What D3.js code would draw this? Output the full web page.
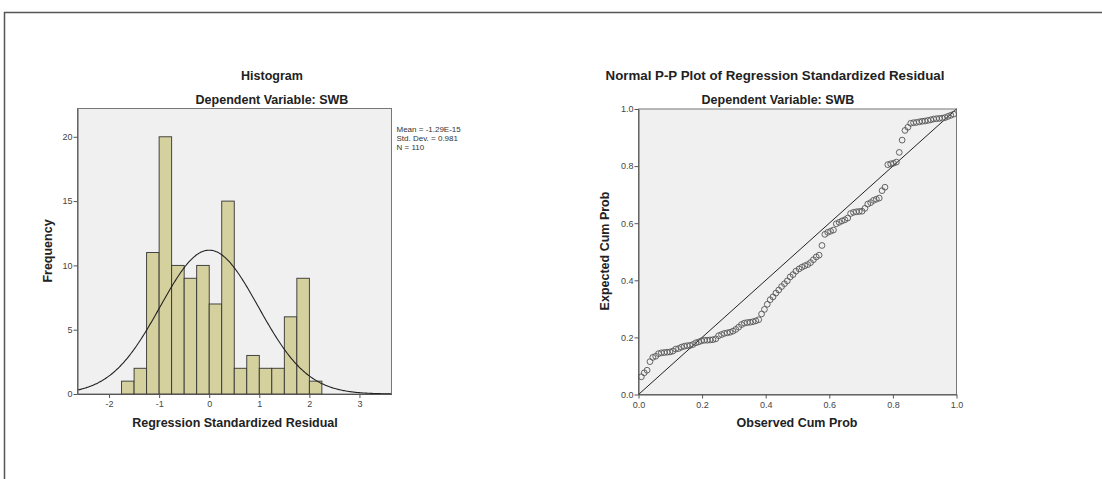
<!DOCTYPE html>
<html>
<head>
<meta charset="utf-8">
<script src="https://cdn.jsdelivr.net/npm/d3@7"></script>
<style>
  body { margin: 0; background: #fff; }
  svg { display: block; font-family: "Liberation Sans", Arial, sans-serif; }
  .tick text { fill: #444; font-size: 9px; }
  .title { font-weight: bold; font-size: 12.5px; fill: #222; text-anchor: middle; }
</style>
</head>
<body>
<div id="chart"></div>
<script>
// histogram data (bin lower edge, width 0.25)
var binStarts = [-1.75, -1.5, -1.25, -1.0, -0.75, -0.5, -0.25, 0, 0.25, 0.5, 0.75, 1.0, 1.25, 1.5, 1.75, 2.0];
var binCounts = [1, 2, 11, 20, 10, 9, 10, 7, 15, 2, 3, 2, 2, 6, 9, 1];
var binWidth = 0.25;
var histXTicks = [-2, -1, 0, 1, 2, 3];
var histYTicks = [0, 5, 10, 15, 20];
var statLines = ["Mean = -1.29E-15", "Std. Dev. = 0.981", "N = 110"];
var resMean = -1.29e-15, resSd = 0.981, resN = 110;

// P-P plot data
var ppObserved = [0.009, 0.018, 0.027, 0.036, 0.045, 0.054, 0.063, 0.072, 0.081, 0.090,
  0.099, 0.108, 0.117, 0.126, 0.135, 0.144, 0.153, 0.162, 0.171, 0.180,
  0.189, 0.198, 0.207, 0.216, 0.225, 0.234, 0.243, 0.252, 0.261, 0.270,
  0.279, 0.288, 0.297, 0.306, 0.315, 0.324, 0.333, 0.342, 0.351, 0.360,
  0.369, 0.378, 0.387, 0.396, 0.405, 0.414, 0.423, 0.432, 0.441, 0.450,
  0.459, 0.468, 0.477, 0.486, 0.495, 0.505, 0.514, 0.523, 0.532, 0.541,
  0.550, 0.559, 0.568, 0.577, 0.586, 0.595, 0.604, 0.613, 0.622, 0.631,
  0.640, 0.649, 0.658, 0.667, 0.676, 0.685, 0.694, 0.703, 0.712, 0.721,
  0.730, 0.739, 0.748, 0.757, 0.766, 0.775, 0.784, 0.793, 0.802, 0.811,
  0.820, 0.829, 0.838, 0.847, 0.856, 0.865, 0.874, 0.883, 0.892, 0.901,
  0.910, 0.919, 0.928, 0.937, 0.946, 0.955, 0.964, 0.973, 0.982, 0.991];
var ppExpected = [0.062, 0.076, 0.085, 0.115, 0.130, 0.134, 0.143, 0.146, 0.147, 0.148,
  0.149, 0.152, 0.159, 0.161, 0.166, 0.169, 0.171, 0.172, 0.175, 0.181,
  0.184, 0.188, 0.190, 0.190, 0.191, 0.192, 0.195, 0.206, 0.210, 0.214,
  0.216, 0.218, 0.222, 0.228, 0.236, 0.245, 0.250, 0.252, 0.253, 0.255,
  0.258, 0.262, 0.282, 0.298, 0.316, 0.332, 0.342, 0.355, 0.366, 0.378,
  0.388, 0.398, 0.412, 0.420, 0.432, 0.440, 0.446, 0.451, 0.455, 0.462,
  0.472, 0.482, 0.488, 0.522, 0.561, 0.568, 0.572, 0.576, 0.598, 0.603,
  0.608, 0.612, 0.618, 0.634, 0.638, 0.640, 0.641, 0.642, 0.652, 0.667,
  0.672, 0.680, 0.684, 0.688, 0.714, 0.726, 0.805, 0.808, 0.810, 0.814,
  0.848, 0.891, 0.925, 0.936, 0.950, 0.952, 0.953, 0.955, 0.957, 0.958,
  0.960, 0.962, 0.965, 0.966, 0.967, 0.968, 0.970, 0.974, 0.978, 0.982];
var ppTicks = [0, 0.2, 0.4, 0.6, 0.8, 1.0];

var w = 1102, h = 479;
var svg = d3.select("#chart").append("svg").attr("width", w).attr("height", h);

// outer frame (top and left edges)
svg.append("path")
  .attr("d", "M4.5," + h + " V12.5 H" + w)
  .attr("fill", "none").attr("stroke", "#555").attr("stroke-width", 1.5);

function panel(left, top, right, bottom) {
  svg.append("rect")
    .attr("x", left).attr("y", top)
    .attr("width", right - left).attr("height", bottom - top)
    .attr("fill", "#f0f0f0").attr("stroke", "#777").attr("stroke-width", 1);
}

function styleAxis(g) {
  g.select(".domain").attr("stroke", "#555");
  g.selectAll(".tick line").attr("stroke", "#555");
}

// ---------- Histogram ----------
var hx = d3.scaleLinear().domain([-2.63, 3.64]).range([77.5, 391.5]);
var hy = d3.scaleLinear().domain([0, 22.2]).range([394, 108.5]);

panel(77.5, 108.5, 391.5, 394);

var clipH = svg.append("clipPath").attr("id", "clipH")
  .append("rect").attr("x", 77.5).attr("y", 108.5).attr("width", 314).attr("height", 285.5);

svg.append("g").selectAll("rect")
  .data(binCounts)
  .enter()
  .append("rect")
  .attr("x", function(d, i) { return hx(binStarts[i]); })
  .attr("y", function(d) { return hy(d); })
  .attr("width", function(d, i) { return hx(binStarts[i] + binWidth) - hx(binStarts[i]); })
  .attr("height", function(d) { return hy(0) - hy(d); })
  .attr("fill", "#d5d19f")
  .attr("stroke", "#333")
  .attr("stroke-width", 0.9);

// normal curve from the stated mean / sd / N
var curveXs = d3.range(-2.63, 3.65, 0.02);
var curve = d3.line()
  .x(function(d) { return hx(d); })
  .y(function(d) {
    var z = (d - resMean) / resSd;
    return hy(resN * binWidth * Math.exp(-0.5 * z * z) / (resSd * Math.sqrt(2 * Math.PI)));
  })
  .curve(d3.curveBasis);
svg.append("path")
  .datum(curveXs)
  .attr("d", curve)
  .attr("fill", "none").attr("stroke", "#222").attr("stroke-width", 1.1)
  .attr("clip-path", "url(#clipH)");

var hxAxis = svg.append("g").attr("transform", "translate(0,394)")
  .call(d3.axisBottom(hx).tickValues(histXTicks).tickFormat(function(d) { return String(d); })
    .tickSize(4).tickPadding(3).tickSizeOuter(0));
styleAxis(hxAxis);
var hyAxis = svg.append("g").attr("transform", "translate(77.5,0)")
  .call(d3.axisLeft(hy).tickValues(histYTicks).tickSize(4).tickPadding(1).tickSizeOuter(0));
styleAxis(hyAxis);

svg.append("text").attr("class", "title").attr("x", 272).attr("y", 80).text("Histogram");
svg.append("text").attr("class", "title").attr("x", 272).attr("y", 103.5).text("Dependent Variable: SWB");
svg.append("text").attr("class", "title").attr("x", 235).attr("y", 427).text("Regression Standardized Residual");
svg.append("text").attr("class", "title")
  .attr("transform", "translate(52,251) rotate(-90)").text("Frequency");

svg.append("g").selectAll("text")
  .data(statLines)
  .enter()
  .append("text")
  .attr("x", 396.5)
  .attr("y", function(d, i) { return 132 + i * 8.8; })
  .attr("font-size", "8px")
  .attr("fill", "#333")
  .text(function(d) { return d; });

// ---------- P-P plot ----------
var px = d3.scaleLinear().domain([0, 1]).range([638.5, 956.5]);
var py = d3.scaleLinear().domain([0, 1]).range([394.5, 109]);

panel(638.5, 109, 956.5, 394.5);

svg.append("line")
  .attr("x1", px(0)).attr("y1", py(0))
  .attr("x2", px(1)).attr("y2", py(1))
  .attr("stroke", "#222").attr("stroke-width", 1);

svg.append("g").selectAll("circle")
  .data(ppExpected)
  .enter()
  .append("circle")
  .attr("cx", function(d, i) { return px(ppObserved[i]); })
  .attr("cy", function(d) { return py(d); })
  .attr("r", 2.9)
  .attr("fill", "none")
  .attr("stroke", "#555")
  .attr("stroke-width", 0.9);

var fmt = d3.format(".1f");
var pxAxis = svg.append("g").attr("transform", "translate(0,394.5)")
  .call(d3.axisBottom(px).tickValues(ppTicks).tickFormat(fmt).tickSize(4).tickPadding(3).tickSizeOuter(0));
styleAxis(pxAxis);
var pyAxis = svg.append("g").attr("transform", "translate(638.5,0)")
  .call(d3.axisLeft(py).tickValues(ppTicks).tickFormat(fmt).tickSize(4).tickPadding(1).tickSizeOuter(0));
styleAxis(pyAxis);

svg.append("text").attr("class", "title").attr("x", 775).attr("y", 80)
  .style("font-size", "13.3px").text("Normal P-P Plot of Regression Standardized Residual");
svg.append("text").attr("class", "title").attr("x", 778).attr("y", 103.5).text("Dependent Variable: SWB");
svg.append("text").attr("class", "title").attr("x", 797).attr("y", 427).text("Observed Cum Prob");
svg.append("text").attr("class", "title")
  .attr("transform", "translate(609,251) rotate(-90)").text("Expected Cum Prob");
</script>
</body>
</html>
